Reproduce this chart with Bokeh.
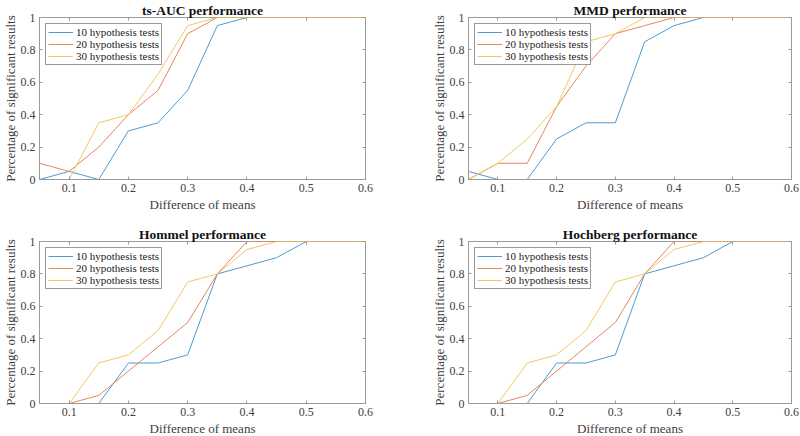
from bokeh.plotting import figure
from bokeh.layouts import gridplot
from bokeh.models import Legend, LegendItem, LinearAxis, FixedTicker, Range1d, Title
from bokeh.embed import file_html
from bokeh.resources import INLINE

x = [0.05, 0.1, 0.15, 0.2, 0.25, 0.3, 0.35, 0.4, 0.45, 0.5, 0.55, 0.6]

titles = ["ts-AUC performance", "MMD performance", "Hommel performance", "Hochberg performance"]
series_names = ["10 hypothesis tests", "20 hypothesis tests", "30 hypothesis tests"]
x_title = "Difference of means"
y_title = "Percentage of significant results"

tsauc_10 = [0, 0.05, 0, 0.3, 0.35, 0.55, 0.95, 1, 1, 1, 1, 1]
tsauc_20 = [0.1, 0.05, 0.2, 0.4, 0.55, 0.9, 1, 1, 1, 1, 1, 1]
tsauc_30 = [0, 0, 0.35, 0.4, 0.65, 0.95, 1, 1, 1, 1, 1, 1]

mmd_10 = [0.05, 0, 0, 0.25, 0.35, 0.35, 0.85, 0.95, 1, 1, 1, 1]
mmd_20 = [0, 0.1, 0.1, 0.45, 0.7, 0.9, 0.95, 1, 1, 1, 1, 1]
mmd_30 = [0, 0.1, 0.25, 0.45, 0.85, 0.9, 1, 1, 1, 1, 1, 1]

hommel_10 = [0, 0, 0, 0.25, 0.25, 0.3, 0.8, 0.85, 0.9, 1, 1, 1]
hommel_20 = [0, 0, 0.05, 0.2, 0.35, 0.5, 0.8, 1, 1, 1, 1, 1]
hommel_30 = [0, 0, 0.25, 0.3, 0.45, 0.75, 0.8, 0.95, 1, 1, 1, 1]

hochberg_10 = [0, 0, 0, 0.25, 0.25, 0.3, 0.8, 0.85, 0.9, 1, 1, 1]
hochberg_20 = [0, 0, 0.05, 0.2, 0.35, 0.5, 0.8, 1, 1, 1, 1, 1]
hochberg_30 = [0, 0, 0.25, 0.3, 0.45, 0.75, 0.8, 0.95, 1, 1, 1, 1]

x_ticks = [0.1, 0.2, 0.3, 0.4, 0.5, 0.6]
x_tick_labels = ["0.1", "0.2", "0.3", "0.4", "0.5", "0.6"]
y_ticks = [0, 0.2, 0.4, 0.6, 0.8, 1]
y_tick_labels = ["0", "0.2", "0.4", "0.6", "0.8", "1"]

colors = ["#4d9cd1", "#e4875e", "#f2c863"]
FONT = "Liberation Serif"
AX = "#9a9a9a"
TXT = "#404040"

panels = [
    (titles[0], [tsauc_10, tsauc_20, tsauc_30]),
    (titles[1], [mmd_10, mmd_20, mmd_30]),
    (titles[2], [hommel_10, hommel_20, hommel_30]),
    (titles[3], [hochberg_10, hochberg_20, hochberg_30]),
]


def style_axis(ax, ticks, labels, show_labels=True):
    ax.ticker = FixedTicker(ticks=ticks)
    ax.major_tick_in = 3
    ax.major_tick_out = 0
    ax.minor_tick_in = 0
    ax.minor_tick_out = 0
    ax.axis_line_color = AX
    ax.major_tick_line_color = AX
    if show_labels:
        ax.major_label_overrides = {t: l for t, l in zip(ticks, labels)}
        ax.major_label_text_font = FONT
        ax.major_label_text_font_size = "12px"
        ax.major_label_text_color = TXT
        ax.major_label_standoff = 4
    else:
        ax.major_label_overrides = {t: "" for t in ticks}
        ax.major_label_text_font_size = "1px"
        ax.major_label_standoff = 0
        ax.axis_line_alpha = 0


figs = []
for i, (title, ys) in enumerate(panels):
    left_col = (i % 2 == 0)
    top_row = i < 2
    mbl = 36 if left_col else 65
    fw = 326 if left_col else 323
    mbr = 400 - mbl - fw
    mbt = 15 if top_row else 24
    mbb = 38 if top_row else 33
    p = figure(width=400, height=mbt + 162 + mbb, output_backend="svg", toolbar_location=None,
               x_range=Range1d(0.05, 0.6), y_range=Range1d(0, 1),
               min_border_left=mbl, min_border_right=mbr,
               min_border_top=mbt, min_border_bottom=mbb,
               frame_width=fw, frame_height=162)
    p.title.text = title
    p.title.align = "center"
    p.title.text_font = FONT
    p.title.text_font_size = "13.5px"
    p.title.text_font_style = "bold"
    p.title.text_color = "#111111"
    p.title.standoff = 0
    p.grid.visible = False
    p.outline_line_color = AX
    p.background_fill_color = "white"
    p.border_fill_color = "white"

    style_axis(p.xaxis[0], x_ticks, x_tick_labels)
    style_axis(p.yaxis[0], y_ticks, y_tick_labels)
    top_ax = LinearAxis()
    style_axis(top_ax, x_ticks, x_tick_labels, show_labels=False)
    p.add_layout(top_ax, "above")
    right_ax = LinearAxis()
    style_axis(right_ax, y_ticks, y_tick_labels, show_labels=False)
    p.add_layout(right_ax, "right")

    p.add_layout(Title(text=x_title, align="center", text_font=FONT, text_font_size="13px",
                       text_font_style="normal", text_color=TXT, standoff=0), "below")
    p.add_layout(Title(text=y_title, align="center", text_font=FONT, text_font_size="13px",
                       text_font_style="normal", text_color=TXT, standoff=0), "left")

    items = []
    for s, yv in enumerate(ys):
        r = p.line(x, yv, line_color=colors[s], line_width=1)
        items.append(LegendItem(label=series_names[s], renderers=[r]))
    leg = Legend(items=items, location="top_left")
    leg.label_text_font = FONT
    leg.label_text_font_size = "11px"
    leg.label_text_color = "#222222"
    leg.glyph_width = 25
    leg.glyph_height = 12
    leg.label_height = 12
    leg.label_standoff = 3
    leg.spacing = 0
    leg.padding = 2
    leg.margin = 6
    leg.border_line_color = "#333333"
    leg.border_line_width = 1
    leg.background_fill_alpha = 1
    p.add_layout(leg)
    figs.append(p)

grid = gridplot([[figs[0], figs[1]], [figs[2], figs[3]]], toolbar_location=None)

open("out.html", "w").write(file_html(grid, INLINE))
